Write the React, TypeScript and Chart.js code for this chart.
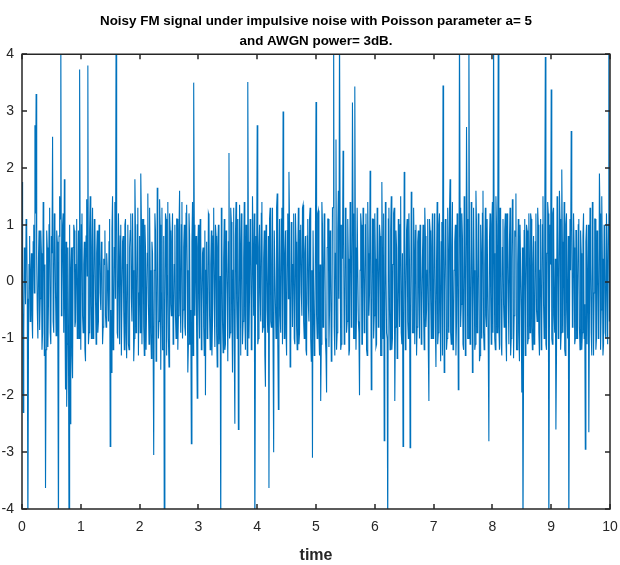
import React, { useEffect, useRef } from "react";
import { Chart, registerables } from "chart.js";

Chart.register(...registerables);

// time grid: 0 .. 10 s, sample step 0.01 s
const timeStart = 0;
const timeStep = 0.01;

// samples at t = 0, 0.02, 0.04, ... 10 (501 values)
const evenA: number[] = [
  1.75, -2.3, 0.6, -0.4, 0.9, -4.6, 0.3, -0.7, 0.5, -1.0, 1.0, 2.75, 3.3, -0.5, 0.4, -0.85, 0.9, -1.2, 1.4, -1.3, -3.63, 0.9, -1.15, 1.0, -0.9,
  0.8, 2.55, -0.9, 1.0, -0.95, 0.7, -4.6, 1.5, 4.6, -0.3, 1.2, 1.8, -1.9, -2.2, 0.6, -4.6, -2.5, 0.6, -1.7, 1.0, -0.8, 0.3, -1.0, 0.9, 3.73,
  -1.2, 1.2, -0.9, 0.7, -1.4, 1.45, 3.8, -0.9, 1.5, -1.0, 1.3, -0.6, 1.0, -1.1, 0.9, -0.7, 0.8, -0.5, 0.6, -0.8, 0.3, -0.6, 0.5, -0.2, 0.7,
  -2.9, -1.6, 1.5, -0.9, 1.4, 4.6, -0.9, 1.2, -1.1, 1.0, -1.3, 0.8, -1.2, 1.1, -1.35, 1.0, -1.2, 0.9, -0.3, 1.2, -1.4, 1.8, -0.9, 1.0, -1.3,
];
const evenB: number[] = [
  0.8, 1.9, -1.1, 1.1, -1.3, 0.6, -1.2, 1.55, -1.1, 0.2, -1.35, 0.5, -3.05, 1.2, -1.4, 1.65, -1.0, 1.45, -1.55, 1.3, -1.2, -4.6, 1.2, -1.3, 1.4,
  -1.5, 0.9, -0.6, 1.2, -0.8, 1.0, -1.0, 1.1, -0.6, 1.6, -0.9, 1.4, -0.5, 1.0, -0.95, 1.35, -1.6, 1.2, -1.1, -2.85, 1.4, 3.5, -0.6, 0.8, -2.05,
  1.0, -1.0, 0.9, -0.5, 0.6, -1.3, -2.0, 0.7, -0.9, 1.15, -1.2, 0.9, -0.7, 1.3, -1.15, 0.8, -1.5, 1.0, -0.8, -4.6, 0.7, -1.25, 1.1, -1.1, 0.6,
  -1.4, 2.26, -0.9, 1.05, -1.6, 1.3, -2.5, 1.4, -1.0, -2.6, 1.35, -1.3, 1.0, -0.7, 1.4, -1.2, 0.9, 3.51, -1.0, 1.1, -1.2, 1.5, -0.6, -4.6, 0.8,
];
const evenC: number[] = [
  2.75, -1.0, 1.0, -0.7, 1.4, -0.8, 0.9, -1.85, 0.7, -0.9, -3.63, 1.3, -0.8, 1.3, -3.0, 0.9, -1.0, 1.55, -2.25, 1.1, -0.9, 1.3, 2.99, -1.0, 0.9,
  -1.3, 1.2, 1.93, -1.5, 1.05, -0.8, 1.2, -1.1, 0.7, -1.2, 1.3, -0.9, 1.0, -0.6, 1.35, -1.0, 0.8, -1.3, 1.1, -0.7, 1.3, -1.4, -3.1, 0.9, -1.0,
  3.16, -1.0, 1.25, -1.3, -2.1, 1.4, -0.8, 1.2, -1.0, -1.95, 1.1, -1.15, 0.9, -1.4, 1.3, 4.6, -1.3, 2.5, -0.9, 1.6, 4.6, -1.2, 1.0, 2.3, -1.1,
  1.3, -0.9, 1.1, -1.3, 1.4, -0.8, 3.15, -1.0, 3.43, -1.2, 1.3, -0.7, -2.0, 1.2, -1.1, 1.3, -0.9, 1.0, -1.2, 1.4, -0.6, 1.95, -1.9, 1.1, -1.0,
];
const evenD: number[] = [
  1.2, -1.15, 1.3, -0.8, 1.0, -1.3, 1.75, -1.0, -2.8, 1.4, -0.9, -4.6, 1.3, -1.2, 1.5, -1.0, 1.2, -2.1, 0.9, -1.35, 1.1, -0.8, 1.5, -1.1, -2.9,
  1.93, -1.2, 0.9, -0.7, 1.2, -2.92, 1.58, -0.9, 1.3, -1.1, 1.0, -0.8, 0.9, -1.0, 0.8, -0.6, 1.0, -1.2, 0.8, -0.5, 1.1, -2.1, 0.9, -1.0, 1.2,
  -0.8, 1.0, -1.5, 1.4, -0.9, 1.2, -1.4, 1.05, 3.45, -1.6, 1.1, -1.2, 1.3, -0.9, 1.8, -1.1, 1.4, -1.0, 0.7, -1.3, 1.2, -1.9, 4.6, -0.8, 1.2,
  -1.1, 1.5, -1.3, 2.72, -1.0, 4.6, -1.1, 1.4, -1.6, 1.3, -1.2, 1.6, -0.9, 1.2, -1.4, 1.0, -1.0, 1.6, -1.2, 1.3, -0.8, 1.1, -2.81, 1.2, -1.1,
];
const evenE: number[] = [
  1.4, 4.6, -1.0, 1.5, -0.9, 4.6, -1.2, 1.0, -1.3, 1.1, -0.8, 1.2, -1.4, 0.9, -1.1, 1.3, -1.0, 1.45, -1.35, 0.9, 1.55, -1.2, 1.1, -1.4, 1.0,
  -1.95, -4.6, 0.9, -1.3, 1.0, -1.1, 1.2, -0.9, 1.1, -1.2, 0.8, -1.0, 1.2, -0.7, 1.0, -1.3, 1.1, -0.8, 1.5, -1.0, 3.95, -1.2, 1.4, -4.6, 1.0,
  3.38, -1.1, 1.3, -0.9, -2.6, 1.5, -1.0, 1.6, -1.2, 1.97, -0.9, 1.4, -1.3, 1.2, -1.0, -4.6, 1.1, 2.65, -0.8, 1.2, -1.1, 0.9, -1.0, 1.0, -0.8,
  0.9, -1.2, 0.8, -1.0, -2.95, 1.0, -1.1, -2.65, 1.3, -0.9, 1.4, -1.3, 1.1, -1.2, 0.9, -1.0, 1.9, -1.2, 1.5, -1.3, 1.0, -0.9, 1.2, -1.1, 4.6,
  1.2,
];

// samples at t = 0.01, 0.03, ... 9.99 (500 values)
const oddA: number[] = [
  0.2, -0.9, 0.4, 1.1, -0.3, -1.1, 0.8, 0.1, -0.6, 0.7, -0.2, 1.2, 0.4, -1.0, 0.9, -0.3, 0.5, -0.9, 1.1, 0.3, -1.2, 0.6, -0.4, 1.3, -1.1,
  0.5, -0.7, 1.2, -0.2, 0.9, -1.0, 0.8, 1.1, -0.6, 1.0, -0.9, -0.4, 0.7, -1.1, -0.8, 1.0, 0.2, -1.3, 0.6, 0.9, -0.7, 1.1, -0.5, -1.0, 0.3,
  1.0, -0.6, 0.3, -1.2, 0.8, 0.1, -1.1, 0.9, -0.4, 0.6, -1.0, 1.1, -0.3, 0.5, -0.9, 1.0, -0.2, 0.7, -1.1, 0.4, 0.9, -0.8, 0.2, -0.7, 1.1,
  -0.5, 0.9, -1.2, 0.6, -0.3, 1.2, -1.0, 0.4, 0.8, -1.3, 0.7, -0.5, 1.0, -0.9, 0.3, -1.1, 0.6, 1.2, -0.7, 0.2, -1.0, 0.9, -0.6, 1.3, -0.2,
];
const oddB: number[] = [
  -0.9, 1.1, 0.3, -0.8, 1.0, -1.2, 0.5, -0.4, 1.3, -0.9, 0.7, -1.1, 0.2, 0.9, -1.3, 0.6, -0.7, 1.0, -0.2, -1.2, 0.8, -0.5, 1.1, 0.1, -1.0,
  1.2, -0.4, 0.7, -1.1, 0.3, -0.6, 1.1, -1.2, 0.9, -0.3, 1.0, -1.0, 0.6, -0.8, 1.2, 0.2, -1.1, 0.8, -0.5, 0.7, -1.3, 1.0, 0.4, -0.9, 0.6,
  -0.3, 1.1, -1.2, 0.5, -0.8, 0.9, 0.2, -1.0, 1.2, -0.6, 0.3, -1.3, 0.8, -0.4, 1.0, -0.9, 0.6, -1.1, 0.1, 1.3, -0.7, 0.4, -1.2, 0.9, -0.2,
  0.7, -1.0, 1.3, -0.5, 0.2, -1.2, 0.8, -0.3, 1.1, -0.9, 0.6, 1.2, -1.1, 0.4, -0.6, 1.0, -1.3, 0.7, -0.2, 0.9, -1.0, 0.5, 1.2, -0.8, 0.3,
];
const oddC: number[] = [
  -1.1, 0.6, -0.2, 1.2, -0.9, 0.4, -1.3, 1.0, -0.5, 0.8, 1.1, -0.7, 0.3, -1.2, 0.9, -0.4, 1.3, -1.0, 0.2, -0.6, 1.1, -1.1, 0.7, 0.5, -0.9,
  0.9, -0.3, 1.0, -1.2, 0.6, 0.3, -1.0, 1.2, -0.8, 0.4, -1.1, 0.9, -0.2, 1.3, -0.7, 0.5, -1.2, 0.8, -0.4, 1.1, -1.0, 0.2, 0.9, -1.3, 0.6,
  -0.6, 1.2, -0.9, 0.3, -1.1, 1.0, -0.2, 0.8, -1.3, 0.6, 1.1, -0.5, 0.2, -1.0, 1.3, -0.8, 0.5, -1.2, 0.9, -0.3, 1.0, -1.1, 0.4, 0.7, -0.9,
  1.1, -0.7, 0.4, -1.2, 0.9, -0.1, 1.2, -1.0, 0.6, -0.5, 1.3, -0.9, 0.2, 1.0, -1.1, 0.7, -0.4, 1.2, -1.3, 0.5, -0.2, 0.9, -1.0, 1.1, -0.6,
];
const oddD: number[] = [
  0.4, -1.1, 1.0, -0.3, 0.8, -1.3, 0.6, 1.2, -0.7, 0.2, -1.0, 1.1, -0.5, 0.9, -1.2, 0.3, 1.3, -0.8, 0.6, -1.1, 0.1, 1.0, -0.9, 0.5, -1.2,
  0.8, -0.4, 1.1, -1.0, 0.3, -0.7, 1.2, -0.9, 0.5, 0.9, -1.3, 0.7, -0.2, 1.0, -1.1, 0.4, -0.6, 1.3, -0.8, 0.2, -1.2, 1.1, -0.3, 0.6, -1.0,
  1.2, -0.8, 0.3, -1.1, 1.0, -0.5, 0.7, -1.3, 1.1, -0.2, 0.9, -1.0, 0.4, 1.2, -0.9, 0.6, -1.2, 0.2, 1.0, -0.7, 0.5, -1.1, 1.3, -0.4, 0.8,
  -1.2, 0.9, -0.3, 1.1, -1.0, 0.6, -0.8, 1.3, -0.5, 0.2, -1.1, 1.0, -0.7, 0.8, -1.3, 0.4, 1.2, -0.9, 0.3, -0.6, 1.1, -1.2, 0.7, -0.2, 1.0,
];
const oddE: number[] = [
  -0.9, 0.5, -1.2, 1.0, 0.2, -0.8, 1.3, -1.1, 0.6, -0.4, 0.9, -1.0, 1.2, -0.3, 0.7, -1.3, 0.4, 1.1, -0.6, 0.8, -1.2, 0.3, -0.9, 1.0, -0.5,
  0.6, -1.3, 1.1, -0.2, 0.9, -1.0, 0.4, 1.2, -0.8, 0.3, -1.1, 0.7, -0.5, 1.3, -0.9, 0.2, -1.2, 1.0, -0.4, 0.8, -1.1, 0.5, 1.2, -0.7, 0.3,
  -1.0, 1.2, -0.6, 0.4, -1.3, 0.9, -0.2, 1.1, -0.9, 0.7, 0.3, -1.2, 1.0, -0.5, 0.8, -1.1, 0.2, 1.3, -0.7, 0.6, -1.0, 0.9, -0.3, 1.1, -1.2,
  0.5, -0.9, 1.2, -0.4, 0.7, -1.1, 1.0, -0.6, 0.3, -1.3, 0.9, -0.2, 1.1, -1.0, 0.6, -0.8, 1.2, -0.5, 0.4, -1.1, 0.8, -1.0, 0.2, 1.0, -0.7,
];

const evenSamples: number[] = [...evenA, ...evenB, ...evenC, ...evenD, ...evenE];
const oddSamples: number[] = [...oddA, ...oddB, ...oddC, ...oddD, ...oddE];

const xTickValues = [0, 1, 2, 3, 4, 5, 6, 7, 8, 9, 10];
const yTickValues = [-4, -3, -2, -1, 0, 1, 2, 3, 4];

const titleLines = [
  "Noisy FM signal under impulsive noise with Poisson parameter a= 5",
  "and AWGN power= 3dB.",
];
const xLabel = "time";

const FONT = "'Liberation Sans', Arial, Helvetica, sans-serif";
const AXIS_COLOR = "#262626";

const boxTicksPlugin = {
  id: "boxTicks",
  afterDatasetsDraw(chart: any) {
    const { ctx, chartArea } = chart;
    const { left, right, top, bottom } = chartArea;
    const xs = chart.scales.x;
    const ys = chart.scales.y;
    ctx.save();
    ctx.strokeStyle = AXIS_COLOR;
    ctx.lineWidth = 1.5;
    ctx.beginPath();
    ctx.rect(left, top, right - left, bottom - top);
    ctx.stroke();
    const len = 5;
    ctx.beginPath();
    xs.ticks.forEach((t: any) => {
      const px = Math.round(xs.getPixelForValue(t.value));
      ctx.moveTo(px, bottom);
      ctx.lineTo(px, bottom - len);
      ctx.moveTo(px, top);
      ctx.lineTo(px, top + len);
    });
    ys.ticks.forEach((t: any) => {
      const py = Math.round(ys.getPixelForValue(t.value));
      ctx.moveTo(left, py);
      ctx.lineTo(left + len, py);
      ctx.moveTo(right, py);
      ctx.lineTo(right - len, py);
    });
    ctx.stroke();
    ctx.restore();
  },
};

export default function App() {
  const ref = useRef<HTMLCanvasElement | null>(null);

  useEffect(() => {
    if (!ref.current) return;
    const points: { x: number; y: number }[] = [];
    evenSamples.forEach((v, i) => {
      points.push({ x: timeStart + 2 * i * timeStep, y: v });
      if (i < oddSamples.length) {
        points.push({ x: timeStart + (2 * i + 1) * timeStep, y: oddSamples[i] });
      }
    });
    const chart = new Chart(ref.current, {
      type: "line",
      data: {
        datasets: [
          {
            data: points,
            borderColor: "#0072BD",
            borderWidth: 1.1,
            pointRadius: 0,
            tension: 0,
            fill: false,
          },
        ],
      },
      options: {
        animation: false,
        responsive: false,
        maintainAspectRatio: false,
        layout: { padding: { left: 0, right: 10, top: 0, bottom: 0 } },
        plugins: {
          legend: { display: false },
          tooltip: { enabled: false },
          title: {
            display: true,
            text: titleLines,
            fullSize: false,
            color: "#000",
            font: { family: FONT, size: 13.4, weight: "bold", lineHeight: 1.5 },
            padding: { top: 11, bottom: 3 },
          },
        },
        scales: {
          x: {
            type: "linear",
            min: 0,
            max: 10,
            afterBuildTicks: (s: any) => {
              s.ticks = xTickValues.map((v) => ({ value: v }));
            },
            afterFit: (s: any) => {
              s.height = 56;
              s.paddingLeft = 0;
              s.paddingRight = 0;
            },
            grid: { display: false, drawTicks: false },
            border: { display: false },
            ticks: {
              color: AXIS_COLOR,
              font: { family: FONT, size: 14 },
              padding: 10,
              maxRotation: 0,
              autoSkip: false,
            },
            title: {
              display: true,
              text: xLabel,
              color: AXIS_COLOR,
              font: { family: FONT, size: 16, weight: "bold" },
              padding: { top: 2, bottom: 0 },
            },
          },
          y: {
            type: "linear",
            min: -4,
            max: 4,
            afterBuildTicks: (s: any) => {
              s.ticks = yTickValues.map((v) => ({ value: v }));
            },
            afterFit: (s: any) => {
              s.width = 22;
              s.paddingTop = 0;
              s.paddingBottom = 0;
            },
            grid: { display: false, drawTicks: false },
            border: { display: false },
            ticks: {
              color: AXIS_COLOR,
              font: { family: FONT, size: 14 },
              padding: 8,
              autoSkip: false,
            },
          },
        },
      },
      plugins: [boxTicksPlugin],
    });
    return () => chart.destroy();
  }, []);

  return (
    <div style={{ position: "absolute", left: 0, top: 0, width: 620, height: 565, background: "#fff" }}>
      <canvas ref={ref} width={620} height={565} style={{ width: 620, height: 565 }} />
    </div>
  );
}
